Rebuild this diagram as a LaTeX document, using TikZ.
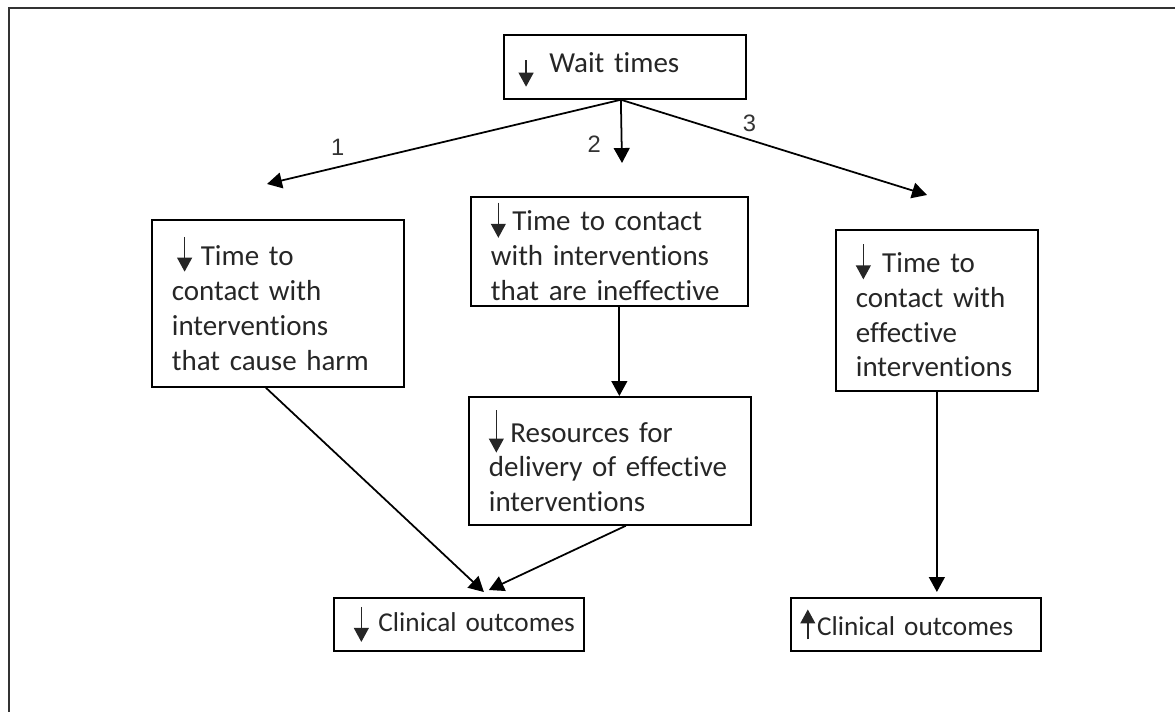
\documentclass[tikz,border=0pt]{standalone}
\usepackage{fontspec}
\setmainfont{Carlito}[Ligatures={NoCommon}]
\newfontfamily\numfont{Liberation Sans}
\usetikzlibrary{arrows.meta}

\tikzset{
  box/.style={draw, line width=1pt, anchor=north west, align=left,
    inner xsep=0.4cm, inner ysep=0pt, text=black!85,
    font=\fontsize{16.5}{19.85}\selectfont},
  endbox/.style={box, font=\fontsize{15.5}{19}\selectfont},
  conn/.style={line width=1pt, -{Triangle[length=8.5pt,width=9pt]}},
  numlabel/.style={font=\numfont\fontsize{13.5}{16}\selectfont, text=black!80},
  frameline/.style={line width=1.5pt, draw=black!80},
}
% small arrow drawn inside the text of a box
\newcommand{\smallarr}[2]{\tikz[baseline=0pt]\draw[line width=0.8pt,-{Triangle[length=8pt,width=8.5pt]}] (0,#1) -- (0,#2);}

\begin{document}
\begin{tikzpicture}[x=0.02cm, y=-0.02cm]
  \useasboundingbox (0,0) rectangle (1175,712);
  \draw[frameline] (9,712) -- (9,8) -- (1175,8);

  % boxes
  \node[box, text width=4.04cm, minimum height=1.28cm] (wait) at (503,34)
    {\mbox{\hspace*{-3pt}\rule{0pt}{15pt}\smallarr{7pt}{-8pt}\hspace{9pt}Wait times}};
  \node[box, text width=4.24cm, minimum height=3.34cm] (boxA) at (151,219)
    {\hspace*{3pt}\smallarr{16.4pt}{-3.4pt}\hspace{5pt}Time to\\
     contact with\\ interventions\\ that cause harm};
  \node[box, text width=4.74cm, minimum height=2.18cm] (boxB) at (470,196)
    {\smallarr{16pt}{-4pt}\hspace{3.7pt}Time to contact\\
     with interventions\\ that are ineffective};
  \node[box, text width=4.84cm, minimum height=2.56cm] (boxC) at (468,396)
    {\smallarr{18pt}{-6pt}\hspace{3.7pt}Resources for\\
     delivery of effective\\ interventions};
  \node[box, text width=3.24cm, minimum height=3.22cm] (boxD) at (835,229)
    {\smallarr{16pt}{-4pt}\hspace{6.5pt}Time to\\
     contact with\\ effective\\ interventions};
  \node[endbox, text width=4.2cm, minimum height=1.06cm] (boxE) at (333,597)
    {\mbox{\smallarr{14pt}{-6pt}\hspace{5.5pt}Clinical outcomes}};
  \node[endbox, text width=4.2cm, minimum height=1.06cm] (boxF) at (790,597)
    {\mbox{\hspace*{-6pt}\smallarr{-2pt}{15pt}\hspace{1pt}Clinical outcomes}};

  % free ends of the three branches
  \coordinate (src) at ([xshift=-0.08cm]wait.south);
  \coordinate (tipA) at (267,184);
  \coordinate (tipB) at (622,163);
  \coordinate (tipD) at (927,195);

  \draw[conn] (src) -- node[numlabel, pos=0.8, above=3pt] (lab1) {1} (tipA);
  \draw[conn] (src) -- node[numlabel, pos=0.71, left=8pt] (lab2) {2} (tipB);
  \draw[conn] (src) -- node[numlabel, pos=0.42, above=1pt] (lab3) {3} (tipD);

  \draw[conn] ([xshift=0.2cm]boxB.south) -- ([xshift=0.2cm]boxB.south |- boxC.north);
  \draw[conn] ([xshift=-0.24cm]boxA.south) -- ([xshift=0.5cm,yshift=0.1cm]boxE.north);
  \draw[conn] ([xshift=0.32cm]boxC.south) -- ([xshift=0.6cm,yshift=0.14cm]boxE.north);
  \draw[conn, shorten >=0.1cm] (boxD.south) -- (boxD.south |- boxF.north);
\end{tikzpicture}
\end{document}
